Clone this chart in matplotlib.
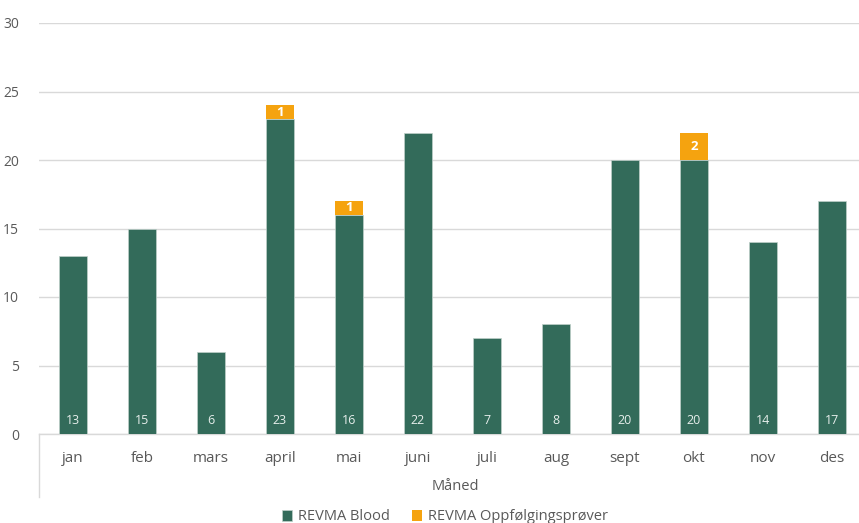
import matplotlib
matplotlib.use("Agg")
import matplotlib.pyplot as plt
from matplotlib.lines import Line2D

months = ["jan", "feb", "mars", "april", "mai", "juni", "juli", "aug", "sept", "okt", "nov", "des"]
blood = [13, 15, 6, 23, 16, 22, 7, 8, 20, 20, 14, 17]
followup = [0, 0, 0, 1, 1, 0, 0, 0, 0, 2, 0, 0]
series_names = ["REVMA Blood", "REVMA Oppfølgingsprøver"]
yticks = [0, 5, 10, 15, 20, 25, 30]

GREEN = "#336B5A"
ORANGE = "#F5A30F"
GRID = "#D9D9D9"
TXT = "#595959"

plt.rcParams['font.family'] = ['Open Sans', 'DejaVu Sans']

W, H = 859, 523
fig = plt.figure(figsize=(W / 100, H / 100), dpi=100)
left_px, right_px = 38.5, 866.5
top_px, bot_px = 23, 434
ax = fig.add_axes([left_px / W, 1 - bot_px / H, (right_px - left_px) / W, (bot_px - top_px) / H])

x = list(range(len(months)))
bw = 0.41
ax.bar(x, blood, width=bw, color=GREEN, edgecolor="#BFD0CA", linewidth=0.5, zorder=3, label=series_names[0])
ax.bar(x, followup, width=bw, bottom=blood, color=ORANGE, linewidth=0, zorder=3, label=series_names[1])

for i, (b, f) in enumerate(zip(blood, followup)):
    ax.text(i, 0.95, str(b), ha="center", va="center", color="#E6EEEB", fontsize=9, zorder=4)
    if f > 0:
        ax.text(i, b + f / 2, str(f), ha="center", va="center", color="white", fontsize=9.5, fontweight="bold", zorder=4)

ax.set_xlim(-0.5, len(months) - 0.5)
ax.set_ylim(0, 30)
ax.set_yticks(yticks)
ax.set_yticklabels([str(t) for t in yticks])
ax.yaxis.grid(True, color=GRID, linewidth=1, zorder=0)
ax.set_axisbelow(True)
ax.set_xticks(x)
ax.set_xticklabels(months)
for s in ["top", "right", "left"]:
    ax.spines[s].set_visible(False)
ax.spines["bottom"].set_color(GRID)
ax.spines["bottom"].set_linewidth(1)
ax.tick_params(axis="y", length=0, pad=14, labelsize=10, labelcolor=TXT)
ax.tick_params(axis="x", length=0, pad=12, labelsize=11, labelcolor=TXT)

# left vertical line of category axis
fig.add_artist(Line2D([39 / W, 39 / W], [1 - 434 / H, 1 - 497 / H], color=GRID, linewidth=1))

fig.text(455 / W, 1 - 487 / H, "Måned", ha="center", va="center", fontsize=10.5, color=TXT)

handles, labels = ax.get_legend_handles_labels()
leg = fig.legend(handles, labels, loc="center", bbox_to_anchor=(445 / W, 1 - 517 / H), ncol=2,
                 frameon=False, fontsize=10.5, handlelength=0.7, handleheight=0.7,
                 handletextpad=0.4, columnspacing=1.5)
for t in leg.get_texts():
    t.set_color(TXT)

fig.savefig("out.png", dpi=100)
